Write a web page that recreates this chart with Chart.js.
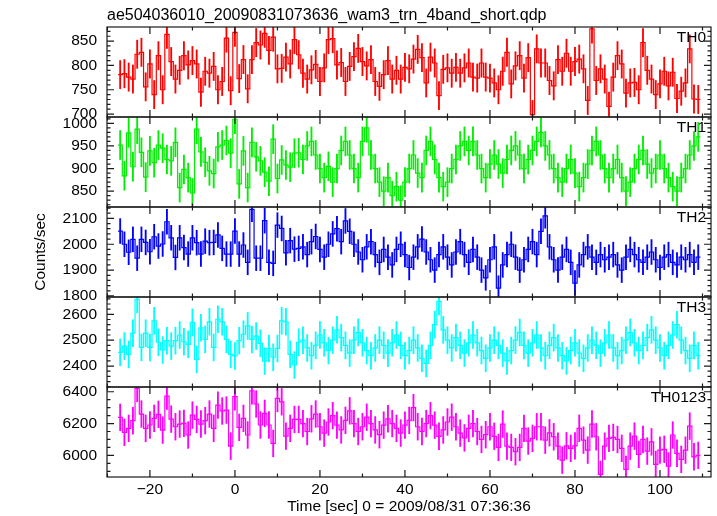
<!DOCTYPE html>
<html>
<head>
<meta charset="utf-8">
<script src="https://cdn.jsdelivr.net/npm/chart.js@4.4.1/dist/chart.umd.min.js"></script>
<style>
  body { margin: 0; background: #fff; }
  #wrap { width: 717px; height: 516px; }
</style>
</head>
<body>
<div id="wrap"><canvas id="lc" width="717" height="516"></canvas></div>
<script>
// bin centres [sec], 1 s bins
const binTimes = [-27,-26,-25,-24,-23,-22,-21,-20,-19,-18,-17,-16,-15,-14,-13,-12,-11,-10,-9,-8,-7,-6,-5,-4,-3,-2,-1,
  0,1,2,3,4,5,6,7,8,9,10,11,12,13,14,15,16,17,18,19,20,21,22,23,24,25,26,27,28,29,30,31,32,33,34,35,36,37,38,39,
  40,41,42,43,44,45,46,47,48,49,50,51,52,53,54,55,56,57,58,59,60,61,62,63,64,65,66,67,68,69,70,71,72,73,74,75,76,77,78,79,
  80,81,82,83,84,85,86,87,88,89,90,91,92,93,94,95,96,97,98,99,100,101,102,103,104,105,106,107,108,109];

// counts/sec per band
const th0 = [781,783,776,772,823,827,756,803,740,820,750,864,808,772,790,820,801,810,803,745,788,784,798,750,767,
  856,748,868,773,812,752,812,847,842,866,831,858,793,794,817,803,853,822,
  784,772,791,802,767,795,853,855,801,806,767,798,818,835,808,799,812,767,757,781,810,772,790,772,796,
  793,813,833,816,764,817,805,738,792,795,784,796,784,795,805,776,774,805,776,774,764,
  750,788,827,762,799,820,774,816,699,834,805,805,769,758,812,788,825,788,808,813,793,728,875,769,793,
  772,716,776,820,803,743,764,765,750,847,790,772,740,762,788,758,786,732,747,764,834,731,730];
const th1 = [952,884,979,904,987,936,881,939,913,952,945,920,917,958,858,898,880,846,987,937,914,895,889,948,952,
  962,934,1009,866,939,858,958,926,917,892,872,965,878,919,908,903,934,935,
  920,950,960,930,900,880,905,870,900,940,960,930,900,880,960,990,930,900,870,850,
  880,840,860,830,870,900,930,890,880,940,960,920,880,860,870,900,920,950,960,940,
  960,930,900,880,910,930,910,890,920,940,950,930,900,920,940,960,980,950,930,900,
  880,870,900,920,890,860,880,910,940,960,930,900,880,900,920,880,850,870,900,920,
  940,910,890,900,930,900,880,860,850,880,900,930,950,970];
const th2 = [2051,2000,1969,2019,1946,2019,2007,1971,2029,1993,2001,2087,2025,1949,2025,1987,1962,2025,2006,1962,
  2012,2006,2007,2036,1984,1962,1962,2051,1962,1997,1930,2135,1946,1946,2091,1930,1926,2074,2061,1967,2014,1981,1984,
  1990,1960,2010,2030,1980,1950,2000,2040,2060,2010,2090,2050,2000,1970,1940,1990,2010,1960,1930,1980,
  1950,1920,1980,2000,1960,1910,1950,1990,2020,1970,1940,1900,1960,1990,1950,1920,1970,2010,1960,1930,
  1980,1950,1900,1870,1940,1990,1830,1920,1960,2000,1950,1900,1940,1980,2010,1960,2050,2110,1990,1940,
  1900,1950,1980,1930,1850,1920,1960,1990,1950,1930,1960,1940,1950,1960,1920,1900,1950,1980,1960,1940,
  1930,1950,1970,1940,1910,1950,1960,1930,1920,1950,1940,1960,1930,1950];
const th3 = [2453,2477,2445,2527,2658,2472,2527,2472,2575,2492,2462,2498,2477,2498,2520,2494,2484,2569,2426,2548,
  2503,2571,2472,2581,2571,2503,2445,2439,2498,2523,2555,2503,2516,2488,2419,2468,2434,2468,2575,2571,2445,2404,2492,
  2500,2470,2440,2480,2520,2490,2460,2500,2540,2510,2480,2450,2500,2530,2490,2460,2440,2470,2500,2480,
  2450,2490,2520,2480,2440,2460,2500,2470,2430,2410,2480,2560,2650,2540,2500,2470,2510,2480,2450,2490,
  2520,2490,2460,2430,2470,2500,2480,2450,2420,2460,2500,2530,2480,2450,2490,2520,2470,2440,2480,2510,
  2470,2440,2420,2460,2490,2450,2430,2470,2500,2480,2450,2490,2520,2470,2440,2460,2500,2530,2490,2460,
  2480,2510,2540,2500,2470,2440,2480,2520,2560,2500,2460,2430,2480,2440];
const th0123 = [6239,6145,6170,6218,6421,6260,6170,6191,6233,6258,6159,6373,6228,6180,6197,6201,6128,6253,6226,6197,
  6218,6260,6170,6316,6279,6285,6058,6369,6176,6233,6128,6406,6323,6191,6264,6191,6075,6358,6337,6121,6170,6226,6226,
  6200,6150,6230,6260,6180,6140,6210,6250,6190,6160,6220,6280,6200,6150,6180,6240,6200,6160,6130,6190,
  6230,6200,6170,6140,6190,6220,6300,6180,6150,6200,6250,6190,6120,6160,6210,6240,6180,6140,6110,6170,
  6200,6150,6100,6130,6180,6120,
  6050,6197,6058,6050,6023,6050,6170,6090,6107,6180,6180,6096,6142,6117,6058,5970,6060,6044,6060,6170,
  6096,6033,6197,6117,5880,6058,6107,6113,6100,6044,5912,6058,6121,6006,6100,6027,6085,5943,6033,6038,
  5933,6128,6013,5975,6033,6184,5991,6000];

// 1-sigma error per band
const errors = [29, 32, 48, 52, 84];
const bandNames = ['TH0', 'TH1', 'TH2', 'TH3', 'TH0123'];
const bandColors = ['#ff0000', '#00ee00', '#0000ff', '#00ffff', '#ff00ff'];
const series = [th0, th1, th2, th3, th0123];

// axis ranges / tick labels
const yRanges = [[694, 879], [815, 1014], [1796, 2144], [2319, 2667], [5864, 6430]];
const yTicks = [[700, 750, 800, 850], [850, 900, 950, 1000], [1800, 1900, 2000, 2100],
  [2400, 2500, 2600], [6000, 6200, 6400]];
const yMinor = [10, 10, 20, 20, 50];
const xTicks = [-20, 0, 20, 40, 60, 80, 100];

const FONT = { family: '"Liberation Sans", Arial, sans-serif', size: 15.5 };

const datasets = [];
series.forEach((vals, i) => {
  // step histogram: one point at each bin's left edge, plus closing edge
  const steps = vals.map((v, k) => ({ x: binTimes[k] - 0.5, y: v }));
  steps.push({ x: binTimes[binTimes.length - 1] + 0.5, y: vals[vals.length - 1] });
  datasets.push({
    type: 'line', data: steps, yAxisID: 'y' + i, stepped: true,
    borderColor: bandColors[i], borderWidth: 1.2, pointRadius: 0, fill: false
  });
  datasets.push({
    type: 'bar', yAxisID: 'y' + i, grouped: false, barThickness: 1.2,
    data: vals.map((v, k) => ({ x: binTimes[k], y: [v - errors[i], v + errors[i]] })),
    backgroundColor: bandColors[i], borderWidth: 0
  });
});

const scales = {
  x: {
    type: 'linear', min: -30.1, max: 112, offset: false,
    grid: { display: false, drawTicks: false, offset: false }, border: { display: false },
    ticks: { font: FONT, color: '#000', padding: 3, maxRotation: 0, autoSkip: false,
      callback: v => String(v).replace('-', '\u2212') },
    afterBuildTicks: s => { s.ticks = xTicks.map(v => ({ value: v })); },
    afterFit: s => { s.height = 39; },
    title: { display: true, text: 'Time [sec] 0 = 2009/08/31 07:36:36', font: FONT, color: '#000',
      padding: { top: 0, bottom: 0 } }
  }
};
bandNames.forEach((name, i) => {
  scales['y' + i] = {
    type: 'linear', position: 'left', stack: 'bands', stackWeight: 1, weight: 5 - i,
    min: yRanges[i][0], max: yRanges[i][1],
    grid: { display: false, drawTicks: false }, border: { display: false },
    ticks: { font: FONT, color: '#000', padding: 10, autoSkip: false, callback: v => String(v) },
    afterBuildTicks: s => { s.ticks = yTicks[i].map(v => ({ value: v })); },
    afterFit: s => { s.width = 107; },
    title: { display: i === 2, text: 'Counts/sec', font: FONT, color: '#000', padding: { top: 31, bottom: 0 } }
  };
});

// clip each band to its own panel
const panelClip = {
  id: 'panelClip',
  beforeDatasetDraw(chart, args) {
    const s = args.meta.yScale, a = chart.chartArea;
    chart.ctx.save();
    chart.ctx.beginPath();
    chart.ctx.rect(a.left, s.top, a.right - a.left, s.bottom - s.top);
    chart.ctx.clip();
  },
  afterDatasetDraw(chart) { chart.ctx.restore(); }
};

// qdp-style boxes with inward ticks and band labels
const frames = {
  id: 'frames',
  afterDatasetsDraw(chart) {
    const { ctx, chartArea: a, scales: sc } = chart;
    ctx.save();
    ctx.strokeStyle = '#1a1a1a';
    ctx.lineWidth = 1.2;
    bandNames.forEach((name, i) => {
      const s = sc['y' + i];
      ctx.strokeRect(a.left, s.top, a.right - a.left, s.bottom - s.top);
      ctx.beginPath();
      const step = yMinor[i];
      for (let v = Math.ceil(s.min / step) * step; v <= s.max; v += step) {
        const y = s.getPixelForValue(v);
        const len = yTicks[i].includes(v) ? 7 : 3.5;
        ctx.moveTo(a.left, y); ctx.lineTo(a.left + len, y);
        ctx.moveTo(a.right, y); ctx.lineTo(a.right - len, y);
      }
      for (let t = -30; t <= 110; t += 10) {
        const x = sc.x.getPixelForValue(t);
        const len = xTicks.includes(t) ? 7 : 3.5;
        ctx.moveTo(x, s.top); ctx.lineTo(x, s.top + len);
        ctx.moveTo(x, s.bottom); ctx.lineTo(x, s.bottom - len);
      }
      ctx.stroke();
      ctx.fillStyle = '#000';
      ctx.font = FONT.size + 'px ' + FONT.family;
      ctx.textAlign = 'right';
      ctx.textBaseline = 'middle';
      ctx.fillText(name, a.right - 5, s.top + 11);
    });
    ctx.restore();
  }
};

new Chart(document.getElementById('lc'), {
  type: 'line',
  data: { datasets },
  options: {
    responsive: false, animation: false, devicePixelRatio: 1,
    layout: { padding: { left: 0, right: 6, top: 0, bottom: 0 } },
    scales,
    plugins: {
      legend: { display: false },
      tooltip: { enabled: false },
      title: {
        display: true, text: 'ae504036010_20090831073636_wam3_trn_4band_short.qdp',
        align: 'start', fullSize: false, font: { ...FONT, size: 16, weight: 'normal' }, color: '#000',
        padding: { top: 5.5, bottom: 2.3 }
      }
    }
  },
  plugins: [panelClip, frames]
});
</script>
</body>
</html>
